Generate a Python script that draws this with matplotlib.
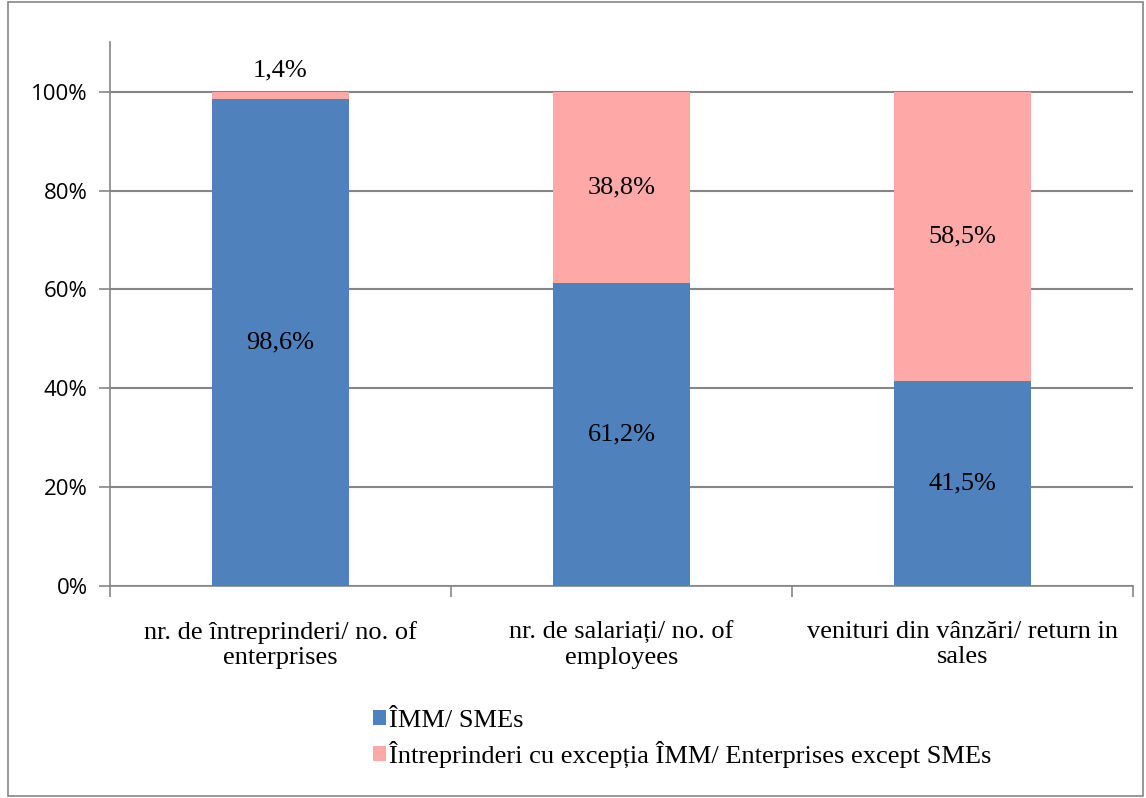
import numpy as np
import matplotlib.pyplot as plt
from matplotlib.patches import Rectangle

categories = ["nr. de întreprinderi/ no. of\nenterprises",
              "nr. de salariați/ no. of\nemployees",
              "venituri din vânzări/ return in\nsales"]
sme = [98.6, 61.2, 41.5]
non_sme = [1.4, 38.8, 58.5]
series_names = ["ÎMM/ SMEs", "Întreprinderi cu excepția ÎMM/ Enterprises except SMEs"]
yticks = [0, 20, 40, 60, 80, 100]

blue = "#4F81BD"
pink = "#FFA8A8"
grid_c = "#868686"

fig = plt.figure(figsize=(11.46, 7.98), dpi=100)
ax = fig.add_axes([0.096, 0.2657, 0.8927, 0.6813])

x = np.arange(len(categories))
b1 = ax.bar(x, sme, width=0.4, color=blue, label=series_names[0], zorder=3)
b2 = ax.bar(x, non_sme, width=0.4, bottom=sme, color=pink, label=series_names[1], zorder=3)

serif = ["Liberation Serif", "DejaVu Serif"]
fs = 19
for i in range(len(categories)):
    ax.text(x[i], sme[i] / 2, f"{sme[i]:.1f}%".replace(".", ","), ha="center", va="center",
            fontsize=fs, family=serif, zorder=4)
    if non_sme[i] < 5:
        ypos = 100 + 4.3
    else:
        ypos = sme[i] + non_sme[i] / 2
    ax.text(x[i], ypos, f"{non_sme[i]:.1f}%".replace(".", ","), ha="center", va="center",
            fontsize=fs, family=serif, zorder=4)

ax.set_xlim(-0.5, 2.5)
ax.set_ylim(0, 110)
ax.set_yticks(yticks)
ax.set_yticklabels([f"{v}%" for v in yticks], family=["Open Sans", "DejaVu Sans"], fontsize=16)
ax.yaxis.grid(True, color=grid_c, linewidth=1.5, zorder=0)
ax.set_xticks([-0.5, 0.5, 1.5, 2.5])
ax.set_xticklabels([])
ax.set_xticks(x, minor=True)
ax.set_xticklabels(categories, minor=True, family=serif, fontsize=fs)
ax.tick_params(axis="x", which="minor", length=0, pad=25)
ax.tick_params(axis="x", which="major", length=8, color=grid_c, width=1.2)
ax.tick_params(axis="y", length=8, color=grid_c, width=1.2, pad=8)

for s in ["top", "right"]:
    ax.spines[s].set_visible(False)
ax.spines["left"].set_color(grid_c)
ax.spines["bottom"].set_color(grid_c)
ax.spines["left"].set_linewidth(1.2)
ax.spines["bottom"].set_linewidth(1.2)

fig.legend(handles=[b1, b2], loc="upper left", bbox_to_anchor=(0.316, 0.124),
           frameon=False, prop={"family": serif, "size": fs},
           handlelength=0.5, handleheight=0.5, handletextpad=0.1, labelspacing=0.35,
           borderaxespad=0)

fig.patches.append(Rectangle((0.007, 0.002), 0.99, 0.996, transform=fig.transFigure,
                             fill=False, edgecolor=grid_c, linewidth=1.2))

fig.savefig("out.png", dpi=100)
